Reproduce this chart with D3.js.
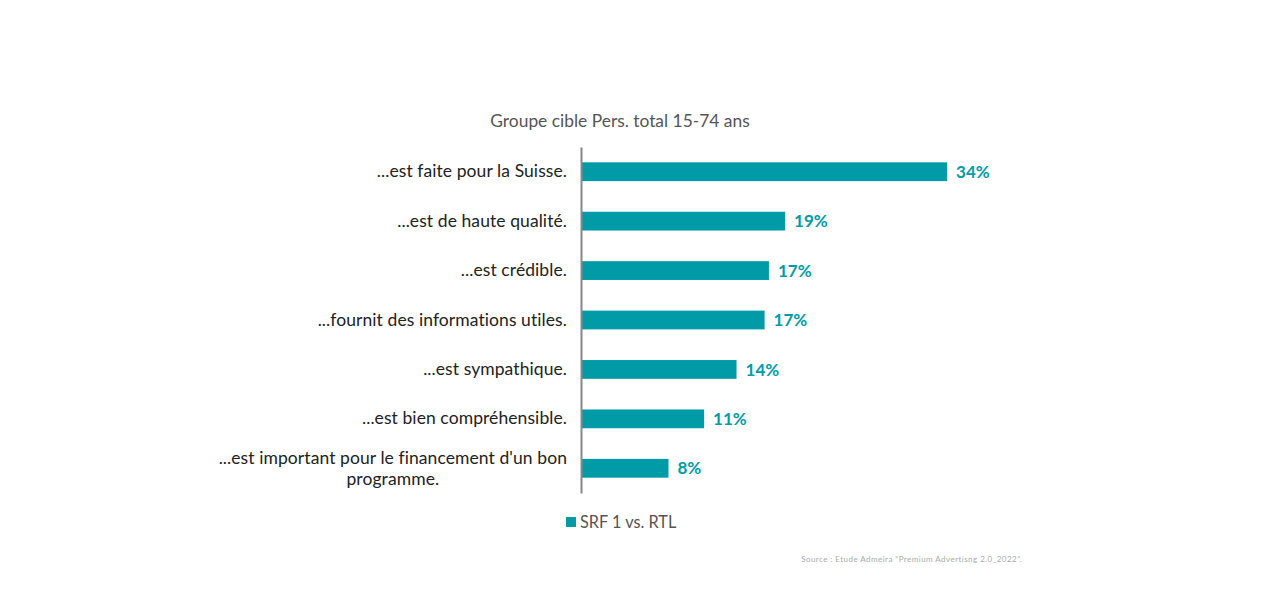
<!DOCTYPE html>
<html>
<head>
<meta charset="utf-8">
<script src="https://cdn.jsdelivr.net/npm/d3@7"></script>
<style>
  html, body { margin: 0; padding: 0; background: #fff; }
  svg { display: block; }
</style>
</head>
<body>
<svg id="chart" width="1280" height="614"></svg>
<script>
const categories = [
  "...est faite pour la Suisse.",
  "...est de haute qualité.",
  "...est crédible.",
  "...fournit des informations utiles.",
  "...est sympathique.",
  "...est bien compréhensible.",
  "...est important pour le financement d'un bon programme."
];
const values = [33.9, 18.9, 17.4, 17.0, 14.4, 11.4, 8.1];
const valueLabels = ["34%", "19%", "17%", "17%", "14%", "11%", "8%"];
const seriesName = "SRF 1 vs. RTL";
const title = "Groupe cible Pers. total 15-74 ans";
const source = "Source : Etude Admeira \u201cPremium Advertisng 2.0_2022\u201d.";

const teal = "#009ba6";
const svg = d3.select("#chart");
const font = "Lato, 'Open Sans', sans-serif";

const x = d3.scaleLinear().domain([0, 40]).range([581, 581 + 432]);
const y = d3.scaleBand().domain(categories).range([147, 493]).paddingInner(0.62).paddingOuter(0.31);

// title
svg.append("text").attr("x", 620).attr("y", 127).attr("text-anchor", "middle")
  .attr("font-family", font).attr("font-size", 17.4).attr("fill", "#555")
  .text(title);

// bars
svg.selectAll("rect.bar").data(values).join("rect").attr("class", "bar")
  .attr("x", x(0)).attr("y", (d, i) => y(categories[i]))
  .attr("width", d => x(d) - x(0)).attr("height", y.bandwidth())
  .attr("fill", teal);

// value labels
svg.selectAll("text.val").data(values).join("text").attr("class", "val")
  .attr("x", d => x(d) + 9).attr("y", (d, i) => y(categories[i]) + y.bandwidth() / 2)
  .attr("dy", "0.36em").attr("font-family", font).attr("font-weight", 700)
  .attr("font-size", 17).attr("fill", teal)
  .text((d, i) => valueLabels[i]);

// axis
const pad = 14;
const axis = d3.axisLeft(y).tickSize(0).tickPadding(pad);
const g = svg.append("g").attr("transform", `translate(${x(0)},0)`).call(axis);
g.select(".domain").attr("stroke", "#888").attr("stroke-width", 2);
g.selectAll(".tick text").attr("font-family", font).attr("font-size", 17.5)
  .attr("fill", "#222").attr("letter-spacing", 0.08);

// wrap long labels
g.selectAll(".tick text").each(function(d) {
  const t = d3.select(this);
  if (d.length > 40) {
    const parts = ["...est important pour le financement d'un bon", "programme."];
    t.text(null);
    const a = t.append("tspan").attr("x", -pad).attr("dy", "-0.25em").text(parts[0]);
    const w = a.node().getComputedTextLength();
    t.append("tspan").attr("x", -pad - w / 2).attr("dy", "1.2em")
      .attr("text-anchor", "middle").text(parts[1]);
  }
});

// legend
const lg = svg.append("g").attr("transform", "translate(566,517)");
lg.append("rect").attr("width", 10).attr("height", 10).attr("fill", teal);
lg.append("text").attr("x", 14).attr("y", 11).attr("font-family", font)
  .attr("font-size", 16.3).attr("fill", "#555").text(seriesName);

// source
svg.append("text").attr("x", 1022).attr("y", 562).attr("text-anchor", "end")
  .attr("font-family", font).attr("font-size", 8).attr("letter-spacing", 0.45)
  .attr("fill", "#aaa").text(source);
</script>
</body>
</html>
